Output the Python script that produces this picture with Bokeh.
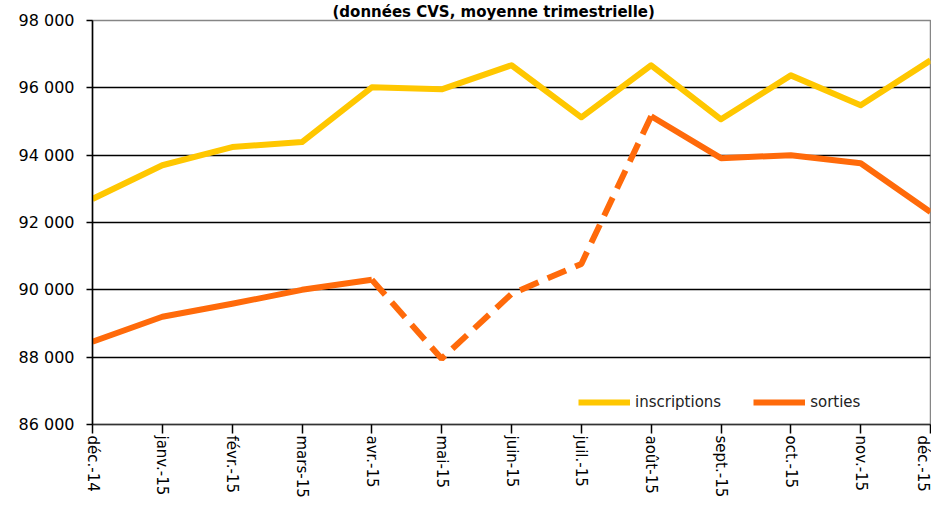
from bokeh.plotting import figure
from bokeh.models import Range1d, FixedTicker, Legend, LegendItem
from bokeh.embed import file_html
from bokeh.resources import INLINE

months = ["déc.-14", "janv.-15", "févr.-15", "mars-15", "avr.-15", "mai-15", "juin-15",
          "juil.-15", "août-15", "sept.-15", "oct.-15", "nov.-15", "déc.-15"]
inscriptions = [92700, 93700, 94240, 94390, 96015, 95955, 96670, 95125, 96670, 95065, 96370, 95480, 96815]
sorties = [88460, 89200, 89585, 90000, 90300, 87955, 89880, 90770, 95155, 93910, 94000, 93760, 92310]
y_ticks = [86000, 88000, 90000, 92000, 94000, 96000, 98000]
y_tick_labels = ["86 000", "88 000", "90 000", "92 000", "94 000", "96 000", "98 000"]
title_text = "(données CVS, moyenne trimestrielle)"

x = list(range(len(months)))
FONT = "DejaVu Sans"
YELLOW = "#FFC700"
ORANGE = "#FF6A0A"

p = figure(width=931, height=500, x_range=Range1d(0, 12), y_range=Range1d(86000, 98000),
           output_backend="svg", toolbar_location=None,
           min_border_left=92, min_border_right=1, min_border_top=19, min_border_bottom=76)
p.background_fill_color = "white"
p.border_fill_color = "white"
p.outline_line_color = "#868686"
p.outline_line_width = 1.5

p.title.text = title_text
p.title.align = "left"
p.title.offset = 240
p.title.standoff = 0
p.title.text_font = FONT
p.title.text_font_size = "15px"
p.title.text_font_style = "bold"
p.title.text_color = "black"

p.xgrid.visible = False
p.ygrid.ticker = FixedTicker(ticks=y_ticks[1:-1])
p.ygrid.grid_line_color = "black"
p.ygrid.grid_line_width = 1.5

# y axis
p.yaxis.ticker = FixedTicker(ticks=y_ticks)
p.yaxis.major_label_overrides = {t: l for t, l in zip(y_ticks, y_tick_labels)}
p.yaxis.axis_line_color = "black"
p.yaxis.axis_line_width = 1.5
p.yaxis.major_tick_line_color = "black"
p.yaxis.major_tick_line_width = 1.5
p.yaxis.major_tick_out = 6
p.yaxis.major_tick_in = 0
p.yaxis.minor_tick_line_color = None
p.yaxis.major_label_standoff = 12
p.yaxis.major_label_text_font = FONT
p.yaxis.major_label_text_font_size = "16px"
p.yaxis.major_label_text_color = "black"

# x axis
p.xaxis.ticker = FixedTicker(ticks=x)
p.xaxis.major_label_overrides = {i: m for i, m in zip(x, months)}
p.xaxis.major_label_orientation = "vertical"
p.xaxis.axis_line_color = "#333333"
p.xaxis.axis_line_width = 1.5
p.xaxis.major_tick_line_color = "black"
p.xaxis.major_tick_line_width = 1.5
p.xaxis.major_tick_out = 9
p.xaxis.major_tick_in = 0
p.xaxis.minor_tick_line_color = None
p.xaxis.major_label_standoff = 2
p.xaxis.major_label_text_font = FONT
p.xaxis.major_label_text_font_size = "15px"
p.xaxis.major_label_text_color = "black"

r_ins = p.line(x, inscriptions, line_color=YELLOW, line_width=6, line_join="round")
r_s1 = p.line(x[:5], sorties[:5], line_color=ORANGE, line_width=6, line_join="round")
p.line(x[4:9], sorties[4:9], line_color=ORANGE, line_width=6, line_dash="20 10")
p.line(x[8:], sorties[8:], line_color=ORANGE, line_width=6, line_join="round")

legend = Legend(items=[LegendItem(label="inscriptions", renderers=[r_ins]),
                       LegendItem(label="sorties", renderers=[r_s1])],
                orientation="horizontal", location=(486, 12),
                border_line_color=None, background_fill_alpha=0,
                padding=0, margin=0, spacing=32, label_standoff=5,
                glyph_width=52, glyph_height=20, label_height=20,
                label_text_font=FONT, label_text_font_size="15px", label_text_color="#222222")
p.add_layout(legend, "center")

open("out.html", "w").write(file_html(p, INLINE))
